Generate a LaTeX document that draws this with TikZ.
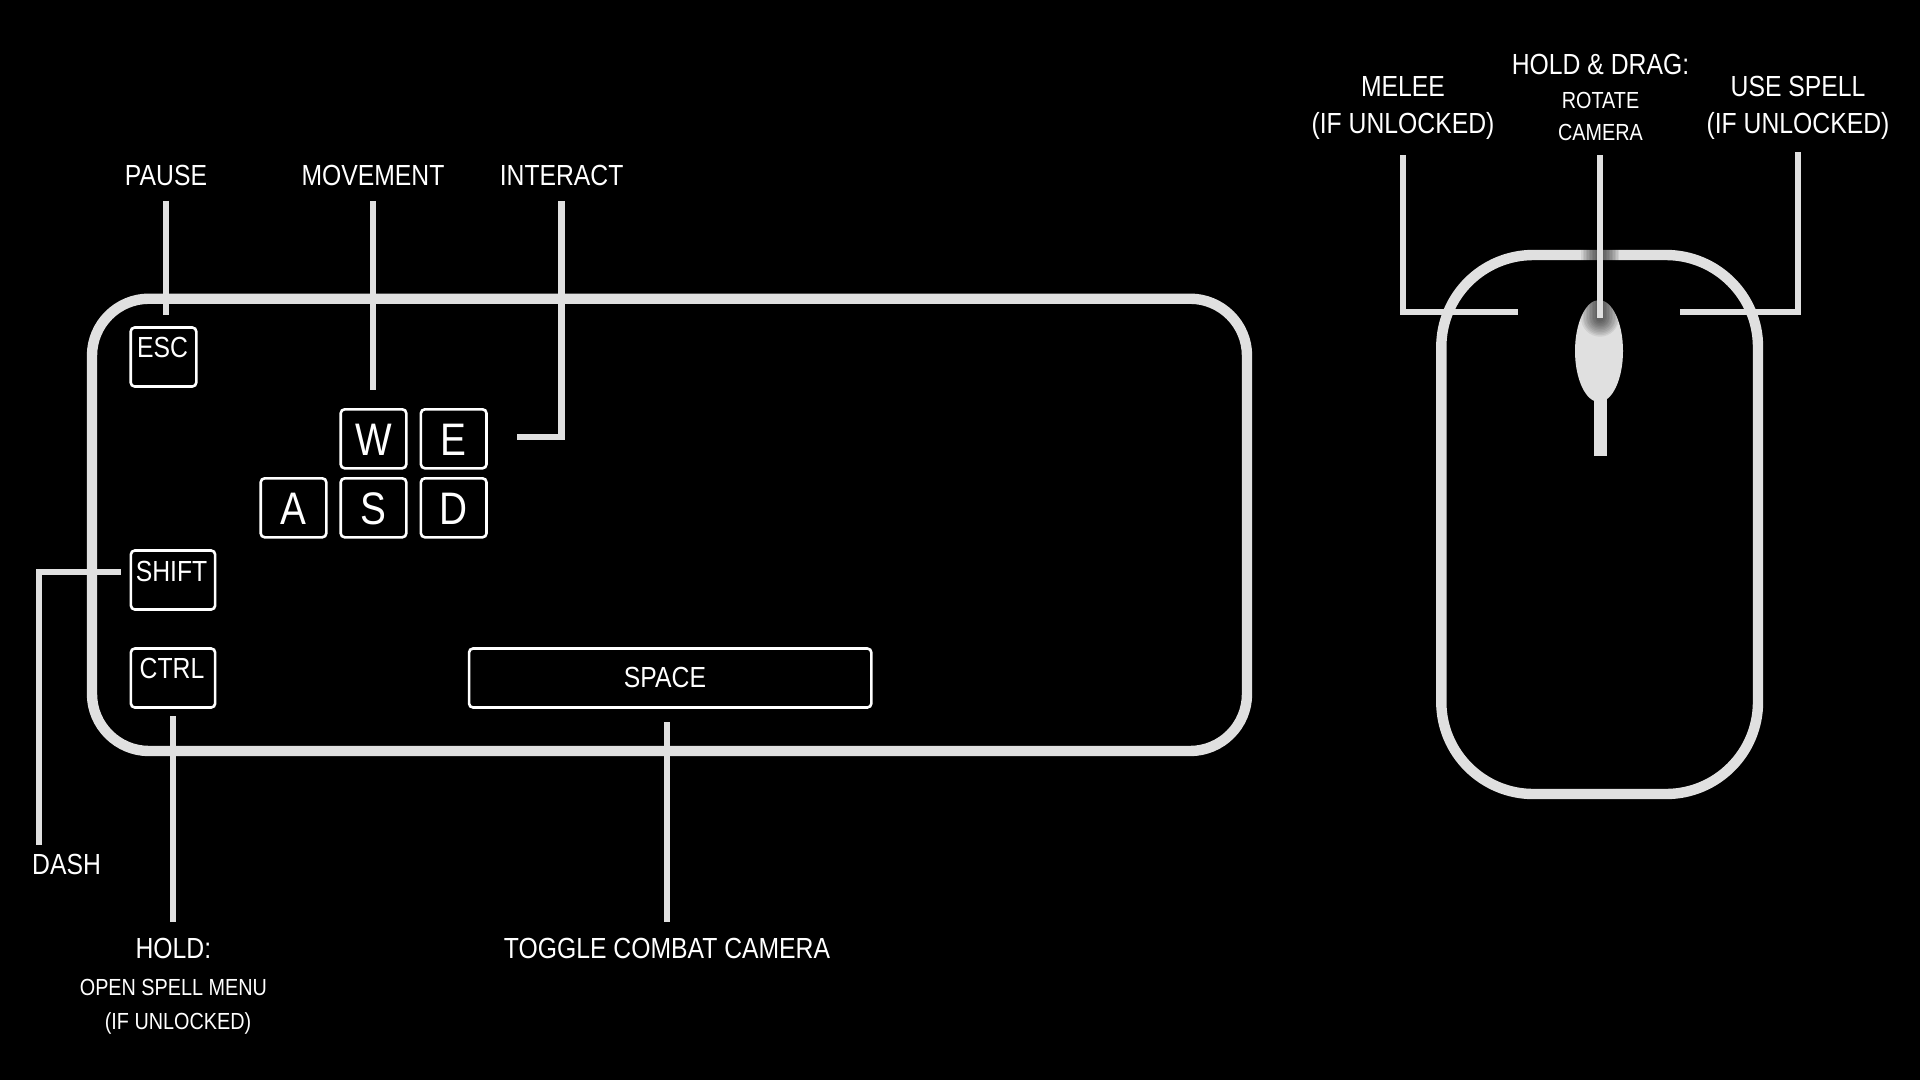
\documentclass[tikz,border=0pt]{standalone}
\usepackage{fontspec}
\setmainfont[FakeStretch=0.85]{Liberation Sans}
\usetikzlibrary{shapes.geometric, positioning, calc}

\definecolor{lineGray}{HTML}{E0E0E0}

\tikzset{
    lbl/.style={text=white, inner sep=0pt, text height=20.3pt, text depth=0pt, font=\fontsize{29.1}{31}\selectfont},
    lblsmall/.style={text=white, inner sep=0pt, text height=16.7pt, text depth=0pt, font=\fontsize{23.3}{25}\selectfont},
    lblbig/.style={text=white, inner sep=0pt, text height=32.7pt, text depth=0pt, font=\fontsize{45.6}{48}\selectfont},
    keybox/.style={draw=white, line width=2.6pt, rounded corners=4pt, inner sep=0pt, outer sep=0pt, minimum width=65.6pt, minimum height=59pt},
    outline/.style={draw=lineGray, line width=10.4pt},
    leader/.style={draw=lineGray, line width=6.4pt, line cap=butt, line join=miter},
    glow/.style={draw=black, opacity=0.07, line cap=round}
}

\begin{document}
\begin{tikzpicture}[x=1pt, y=-1pt]
        % Background
        \fill[black] (0,0) rectangle (1920,1080);
        \useasboundingbox (0,0) rectangle (1920,1080);

        % Keyboard and mouse bodies
        \draw[outline, rounded corners=57pt] (92,298.7) rectangle (1247,751);
        \draw[outline, rounded corners=92pt] (1441.3,255) rectangle (1758,794);

        % Keys
        \node[keybox] (keyesc) at (163.5,357) {};
        \node[keybox, lblbig] (keyw) at (373.5,438.8) {W};
        \node[keybox, lblbig] (keye) at (453.7,438.8) {E};
        \node[keybox, lblbig] (keya) at (293.5,507.8) {A};
        \node[keybox, lblbig] (keys) at (373.5,507.8) {S};
        \node[keybox, lblbig] (keyd) at (453.7,507.8) {D};
        \node[keybox, minimum width=84.3pt] (keyshift) at (173,580) {};
        \node[keybox, minimum width=84.3pt] (keyctrl) at (173,678) {};
        \node[keybox, minimum width=402.3pt] (keyspace) at (670.2,678) {};
        \node[lbl] (txtesc) at (162.5,347) {ESC};
        \node[lbl] (txtshift) at (171.5,571.7) {SHIFT};
        \node[lbl] (txtctrl) at (172,668) {CTRL};
        \node[lbl] (txtspace) at (665,677) {SPACE};

        % Labels around the keyboard
        \node[lbl] (lblpause) at (166,175) {PAUSE};
        \node[lbl] (lblmovement) at (373,175) {MOVEMENT};
        \node[lbl] (lblinteract) at (561.6,175) {INTERACT};
        \node[lbl] (lbldash) at (66.6,864) {DASH};
        \node[lbl] (lblhold) at (173.4,948) {HOLD:};
        \node[lblsmall] (lblspellmenu) at (173.4,986.7) {OPEN SPELL MENU};
        \node[lblsmall] (lblspellif) at (178,1021) {(IF UNLOCKED)};
        \node[lbl] (lbltoggle) at (667,948) {TOGGLE COMBAT CAMERA};

        % Labels around the mouse
        \node[lbl] (lblmelee) at (1403,86) {MELEE};
        \node[lbl] (lblmeleeif) at (1403,123.5) {(IF UNLOCKED)};
        \node[lbl] (lbldrag) at (1600.5,64.3) {HOLD \& DRAG:};
        \node[lblsmall] (lblrotate) at (1600.5,100) {ROTATE};
        \node[lblsmall] (lblcamera) at (1600.5,131.7) {CAMERA};
        \node[lbl] (lbluse) at (1798,86) {USE SPELL};
        \node[lbl] (lbluseif) at (1798,123.5) {(IF UNLOCKED)};

        % Mouse wheel and its stem
        \node[ellipse, fill=lineGray, inner sep=0pt, outer sep=0pt, minimum width=48pt, minimum height=102pt] (wheel) at (1599,351) {};
        \coordinate (stemend) at (1600.3,456);
        \draw[leader, line width=12.6pt, shorten <=-8pt] (wheel.south -| stemend) -- (stemend);

        % Soft shadow behind the wheel leader
        \coordinate (wheelend) at (1600,317.7);
        \foreach \w in {38,35,...,8} {
            \draw[glow, line width=\w pt] (1600,200) -- (wheelend);
        }

        % Free ends of the bent leaders
        \coordinate (interactend) at (517,437);
        \coordinate (dashstart) at (120.5,572);
        \coordinate (dashend) at (39,845);
        \coordinate (meleeend) at (1518,312);
        \coordinate (useend) at (1680,312);

        % Keyboard leaders
        \draw[leader, shorten <=15.5pt, shorten >=12.8pt] (lblpause.south) -- (lblpause.south |- keyesc.north);
        \draw[leader, shorten <=15.5pt, shorten >=19.3pt] (lblmovement.south) -- (lblmovement.south |- keyw.north);
        \draw[leader, shorten <=15.5pt] (lblinteract.south) |- (interactend);
        \draw[leader] (dashstart) -| (dashend);
        \draw[leader, shorten <=8.5pt, shorten >=16pt] (keyctrl.south) -- (keyctrl.south |- lblhold.north);
        \draw[leader, shorten <=14.5pt, shorten >=16pt] (keyspace.south -| lbltoggle.north) -- (lbltoggle.north);

        % Mouse leaders
        \draw[leader, shorten <=21.5pt] (lblmeleeif.south) |- (meleeend);
        \draw[leader, shorten <=15pt] (lblcamera.south -| wheelend) -- (wheelend);
        \draw[leader, shorten <=18.5pt] (lbluseif.south) |- (useend);
    \end{tikzpicture}
\end{document}
